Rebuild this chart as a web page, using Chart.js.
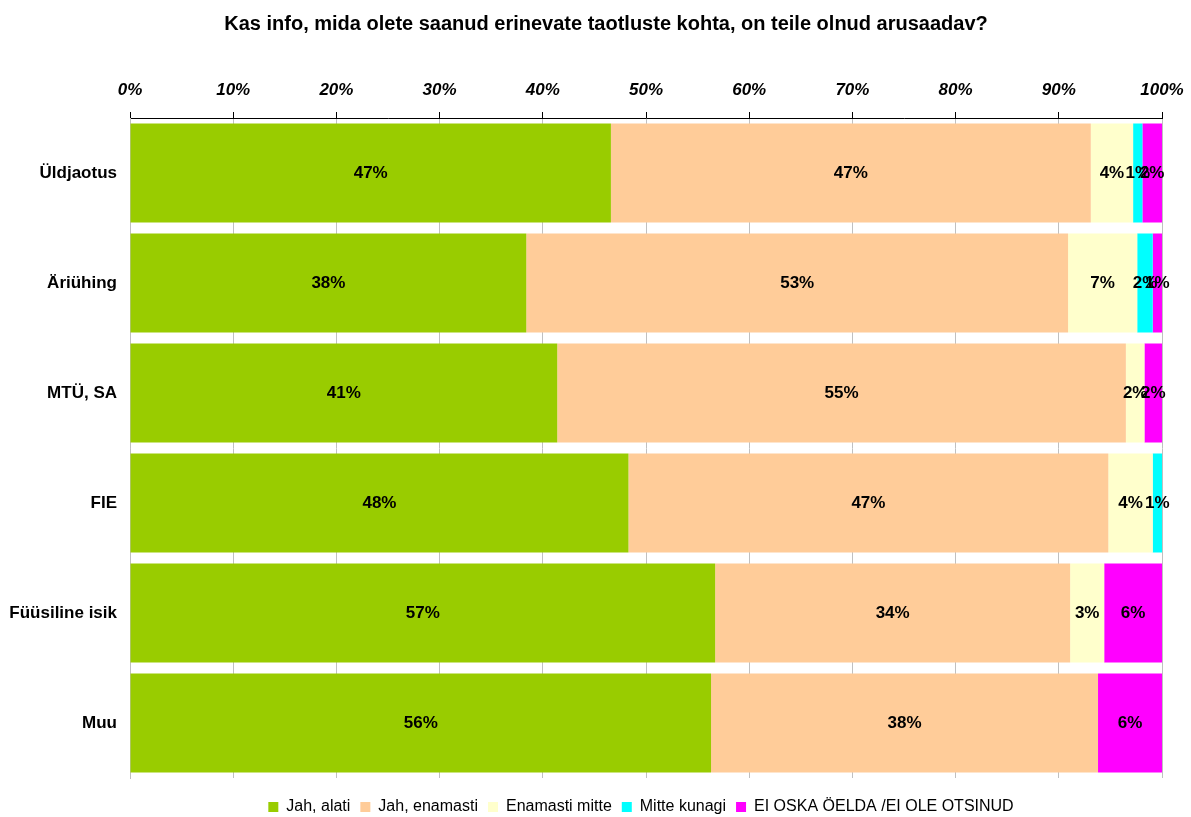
<!DOCTYPE html>
<html>
<head>
<meta charset="utf-8">
<script src="https://cdn.jsdelivr.net/npm/chart.js@4/dist/chart.umd.min.js"></script>
<style>
    html, body { margin: 0; padding: 0; background: #fff; }
    #wrap { width: 1191px; height: 817px; }
</style>
</head>
<body>
<div id="wrap"><canvas id="canvas" width="1191" height="817"></canvas></div>
<script>
const categories = ["Üldjaotus", "Äriühing", "MTÜ, SA", "FIE", "Füüsiline isik", "Muu"];
const jahAlati = [46.6, 38.4, 41.4, 48.3, 56.7, 56.3];
const jahEnamasti = [46.5, 52.5, 55.1, 46.5, 34.4, 37.5];
const enamastiMitte = [4.1, 6.7, 1.8, 4.3, 3.3, 0];
const mitteKunagi = [0.9, 1.5, 0, 0.9, 0, 0];
const eiOska = [1.9, 0.9, 1.7, 0, 5.6, 6.2];
const tickLabels = ["0%", "10%", "20%", "30%", "40%", "50%", "60%", "70%", "80%", "90%", "100%"];

const FONT = "Arial, 'Liberation Sans', sans-serif";

// draws the rounded percentage in the middle of each segment
const valueLabels = {
    id: "valueLabels",
    afterDatasetsDraw(chart) {
        const ctx = chart.ctx;
        ctx.save();
        ctx.font = "bold 17px " + FONT;
        ctx.fillStyle = "#000";
        ctx.textAlign = "center";
        ctx.textBaseline = "middle";
        chart.data.datasets.forEach(function (ds, i) {
            const meta = chart.getDatasetMeta(i);
            meta.data.forEach(function (bar, j) {
                const v = ds.data[j];
                if (!v) return;
                const p = bar.getCenterPoint();
                ctx.fillText(Math.round(v) + "%", p.x, p.y);
            });
        });
        ctx.restore();
    },
};

// title and legend sit centred over the plot rather than the canvas
function shiftBox(box, dx, dy) {
    box.left += dx;
    box.right += dx;
    box.top += dy;
    box.bottom += dy;
}

const boxNudge = {
    id: "boxNudge",
    afterLayout(chart) {
        if (chart.legend) shiftBox(chart.legend, 60, 11);
        if (chart.titleBlock) shiftBox(chart.titleBlock, 25, 0);
    },
};

const config = {
    type: "bar",
    data: {
        labels: categories,
        datasets: [
            { label: "Jah, alati", data: jahAlati, backgroundColor: "#99CC00" },
            { label: "Jah, enamasti", data: jahEnamasti, backgroundColor: "#FFCC99" },
            { label: "Enamasti mitte", data: enamastiMitte, backgroundColor: "#FFFFCC" },
            { label: "Mitte kunagi", data: mitteKunagi, backgroundColor: "#00FFFF" },
            { label: "EI OSKA ÖELDA /EI OLE OTSINUD", data: eiOska, backgroundColor: "#FF00FF" },
        ],
    },
    options: {
        indexAxis: "y",
        responsive: false,
        animation: false,
        barPercentage: 0.9,
        categoryPercentage: 1,
        layout: { padding: { left: 0, right: 29, top: 0, bottom: 3 } },
        plugins: {
            title: {
                display: true,
                text: "Kas info, mida olete saanud erinevate taotluste kohta, on teile olnud arusaadav?",
                color: "#000",
                font: { family: FONT, size: 20, weight: "bold" },
                padding: { top: 12, bottom: 33.6 },
            },
            legend: {
                position: "bottom",
                labels: {
                    color: "#000",
                    boxWidth: 10,
                    boxHeight: 10,
                    padding: 10,
                    font: { family: FONT, size: 16 },
                },
            },
            tooltip: { enabled: false },
        },
        scales: {
            x: {
                position: "top",
                stacked: true,
                min: 0,
                max: 100,
                afterFit: function (scale) {
                    scale.paddingLeft = 0;
                    scale.paddingRight = 0;
                },
                ticks: {
                    stepSize: 10,
                    color: "#000",
                    padding: 11,
                    font: { family: FONT, size: 17, weight: "bold", style: "italic" },
                    callback: function (value, index) {
                        return tickLabels[index];
                    },
                },
                grid: { color: "#C0C0C0", tickColor: "#000", tickLength: 6, lineWidth: 1 },
                border: { color: "#000", width: 1 },
            },
            y: {
                stacked: true,
                afterFit: function (scale) {
                    scale.width = 130;
                },
                ticks: {
                    color: "#000",
                    padding: 13,
                    font: { family: FONT, size: 17, weight: "bold" },
                },
                grid: { display: false, drawTicks: false },
                border: { color: "#C0C0C0", width: 1 },
            },
        },
    },
    plugins: [valueLabels, boxNudge],
};

new Chart(document.getElementById("canvas"), config);
</script>
</body>
</html>
